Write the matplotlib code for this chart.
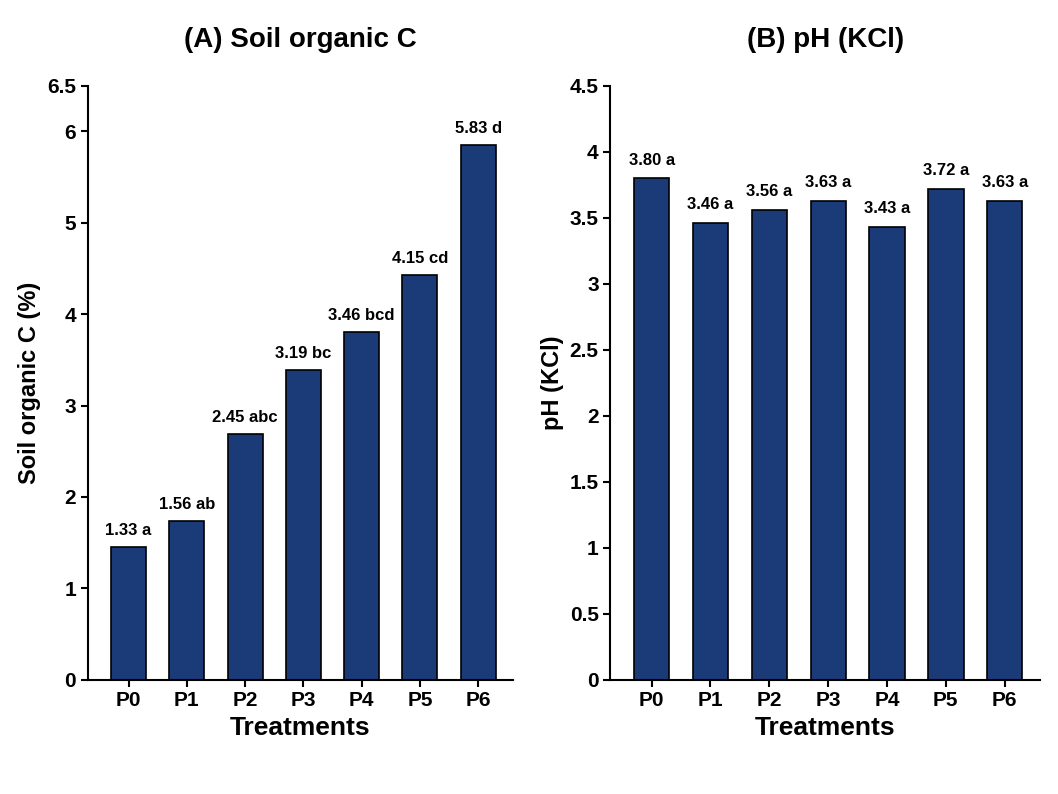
#!/usr/bin/env python3
import numpy as np
import matplotlib.pyplot as plt

plt.rcParams['font.family'] = ['Liberation Sans Narrow', 'Liberation Sans', 'DejaVu Sans']
plt.rcParams['font.weight'] = 'bold'

# Данные
treatments = ['P0', 'P1', 'P2', 'P3', 'P4', 'P5', 'P6']
soc_bar = [1.45, 1.74, 2.69, 3.39, 3.80, 4.43, 5.85]
soc_lab = ['1.33 a', '1.56 ab', '2.45 abc', '3.19 bc', '3.46 bcd', '4.15 cd', '5.83 d']
ph_bar = [3.80, 3.46, 3.56, 3.63, 3.43, 3.72, 3.63]
ph_lab = ['3.80 a', '3.46 a', '3.56 a', '3.63 a', '3.43 a', '3.72 a', '3.63 a']


def plot_panel(ax, vals, labels, title, ylabel, ylim, ticks, ticklabels, off):
    ''' Рисует одну панель со столбцами '''
    x = np.arange(len(vals))
    ax.bar(x, vals, width=0.6, color='#1b3a78', edgecolor='black', linewidth=1.2)
    for xi, v, t in zip(x, vals, labels):
        ax.text(xi, v + off, t, ha='center', va='bottom', fontsize=12, fontweight='bold')
    ax.set_xticks(x)
    ax.set_xticklabels(treatments, fontsize=15, fontweight='bold')
    ax.set_yticks(ticks)
    ax.set_yticklabels(ticklabels, fontsize=15, fontweight='bold')
    ax.set_ylim(ylim)
    ax.set_xlim(-0.7, 6.6)
    ax.set_title(title, fontsize=20, fontweight='bold', pad=28)
    ax.set_xlabel('Treatments', fontsize=19, fontweight='bold')
    ax.set_ylabel(ylabel, fontsize=17, fontweight='bold')
    ax.spines['top'].set_visible(False)
    ax.spines['right'].set_visible(False)
    ax.spines['left'].set_linewidth(1.5)
    ax.spines['bottom'].set_linewidth(1.5)
    ax.tick_params(width=1.5, length=5)


def main():
    fig = plt.figure(figsize=(10.58, 7.94), dpi=100)
    ax1 = fig.add_axes([0.083, 0.144, 0.402, 0.748])
    ax2 = fig.add_axes([0.577, 0.144, 0.406, 0.748])

    plot_panel(ax1, soc_bar, soc_lab, '(A) Soil organic C', 'Soil organic C (%)',
               (0, 6.5), [0, 1, 2, 3, 4, 5, 6, 6.5],
               ['0', '1', '2', '3', '4', '5', '6', '6.5'], 0.1)
    plot_panel(ax2, ph_bar, ph_lab, '(B) pH (KCl)', 'pH (KCl)',
               (0, 4.5), np.arange(0, 4.51, 0.5),
               ['0', '0.5', '1', '1.5', '2', '2.5', '3', '3.5', '4', '4.5'], 0.08)

    plt.savefig('out.png', dpi=100)


if __name__ == "__main__":
    main()
